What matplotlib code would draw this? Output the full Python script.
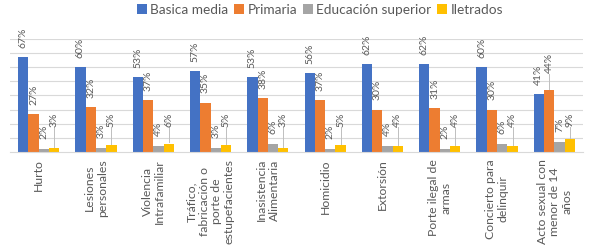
import matplotlib
matplotlib.use("Agg")
import matplotlib.pyplot as plt
import numpy as np

categories = ["Hurto", "Lesiones\npersonales", "Violencia\nIntrafamiliar",
              "Tráfico,\nfabricación o\nporte de\nestupefacientes",
              "Inasistencia\nAlimentaria", "Homicidio", "Extorsión",
              "Porte ilegal de\narmas", "Concierto para\ndelinquir",
              "Acto sexual con\nmenor de 14\naños"]
series_names = ["Basica media", "Primaria", "Educación superior", "Iletrados"]
basica = [67, 60, 53, 57, 53, 56, 62, 62, 60, 41]
primaria = [27, 32, 37, 35, 38, 37, 30, 31, 30, 44]
superior = [2, 3, 4, 3, 6, 2, 4, 2, 6, 7]
iletrados = [3, 5, 6, 5, 3, 5, 4, 4, 4, 9]

colors = ["#4472C4", "#ED7D31", "#A5A5A5", "#FFC000"]
txt = "#595959"
plt.rcParams['font.family'] = ['Lato', 'DejaVu Sans']

fig = plt.figure(figsize=(5.89, 2.46), dpi=100)
ax = fig.add_axes([10/589, 94/246, 573/589, 113/246])
x = np.arange(len(categories))
w = 0.18
data = [basica, primaria, superior, iletrados]
for i, (vals, c, name) in enumerate(zip(data, colors, series_names)):
    pos = x + (i - 1.5) * w
    ax.bar(pos, vals, w, color=c, label=name, zorder=3)
    for k, (p, v) in enumerate(zip(pos, vals)):
        line = False
        if i == 0:
            ly = v + 6.5
        elif i == 1:
            if v > basica[k]:
                ly = v + 12
                line = True
            else:
                ly = v + 6.5
        elif i == 2:
            ly = v + 7
        else:
            ly = max(v + 8, 18)
            line = True
        ax.text(p, ly, f"{v}%", rotation=90, ha="center", va="bottom",
                fontsize=7.5, color=txt, zorder=4)
        if line:
            ax.plot([p, p], [v + 0.8, ly - 0.5], color="#BFBFBF", lw=0.7, zorder=2)

ax.set_xlim(-0.5, len(categories) - 0.5)
ax.set_ylim(0, 80)
ax.set_yticks(np.arange(10, 81, 10))
ax.yaxis.grid(True, color="#D9D9D9", lw=0.8, zorder=0)
ax.set_yticklabels([])
ax.tick_params(axis="y", length=0)
ax.tick_params(axis="x", length=0)
ax.set_xticks(x)
ax.set_xticklabels([])
for xi, lab in zip(x, categories):
    ax.text(xi, -5, lab, rotation=90, ha="center", va="top", fontsize=8.8,
            color=txt, multialignment="center", linespacing=1.15,
            transform=ax.transData)
for s in ["top", "right", "left"]:
    ax.spines[s].set_visible(False)
ax.spines["bottom"].set_color("#D9D9D9")
ax.spines["bottom"].set_zorder(5)

leg = fig.legend(loc="upper center", bbox_to_anchor=(0.543, 1.035), ncol=4, frameon=False,
                 fontsize=9.8, handlelength=0.75, handleheight=0.75, handletextpad=0.25,
                 columnspacing=0.4, labelcolor=txt)
fig.savefig("out.png", dpi=100)
